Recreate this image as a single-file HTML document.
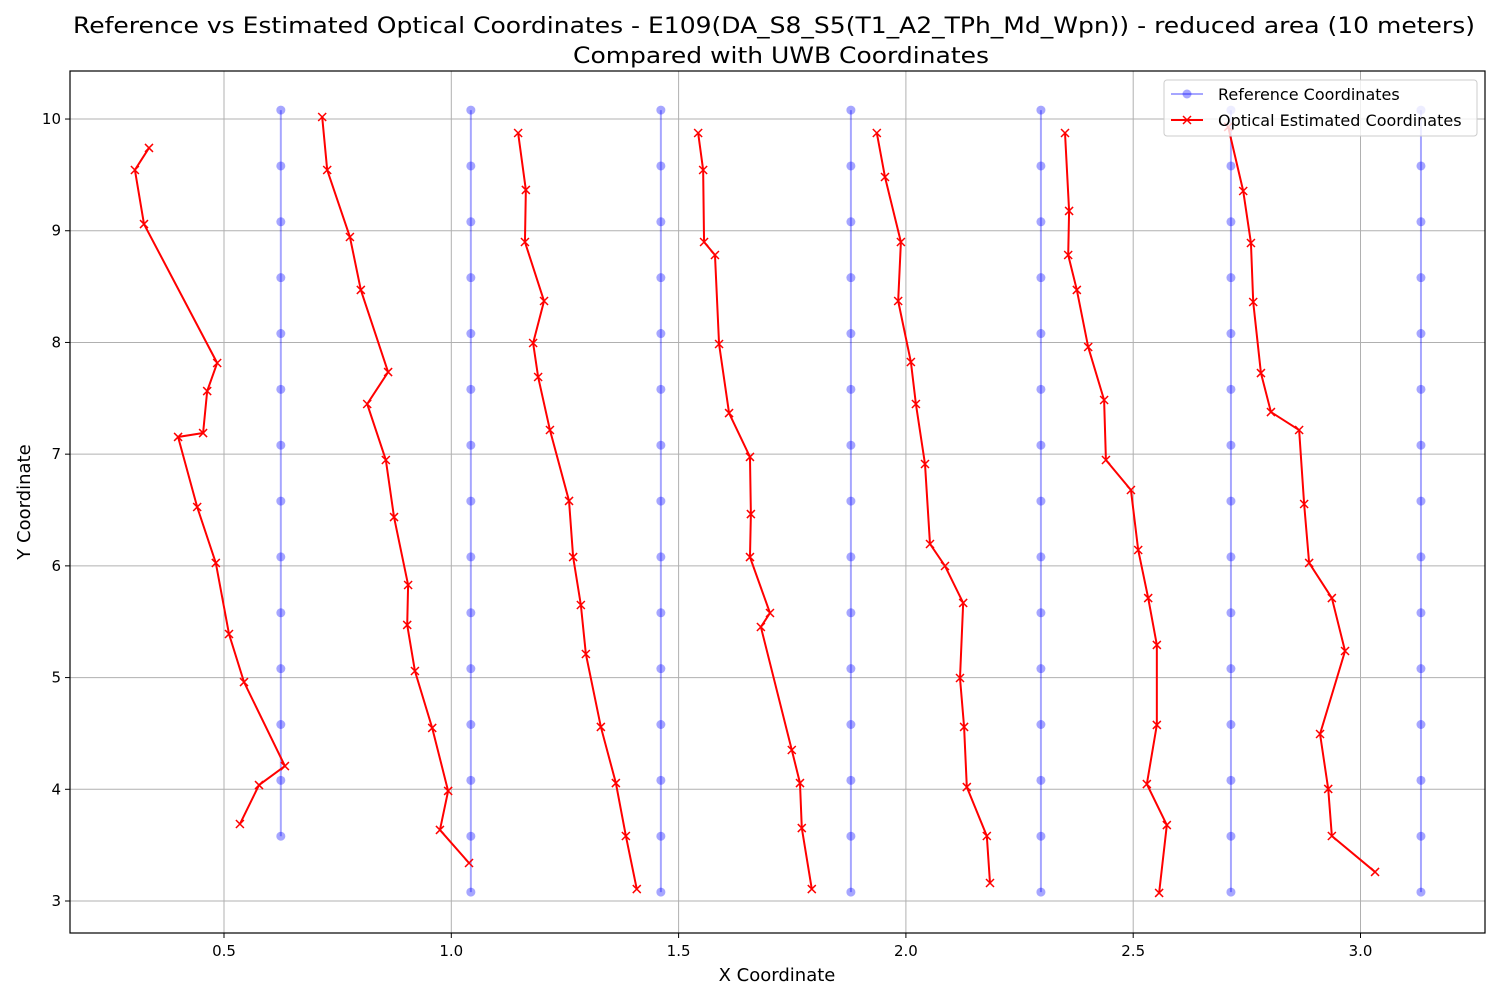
<!DOCTYPE html>
<html><head><meta charset="utf-8"><style>
html,body{margin:0;padding:0;background:#fff;}
svg{display:block;font-family:"DejaVu Sans","Liberation Sans",sans-serif;}
</style></head><body>
<svg id="chart" width="1500" height="1000" xmlns="http://www.w3.org/2000/svg">
<text x="73" y="33" font-size="22" textLength="1402" lengthAdjust="spacingAndGlyphs">Reference vs Estimated Optical Coordinates - E109(DA_S8_S5(T1_A2_TPh_Md_Wpn)) - reduced area (10 meters)</text>
<text x="573" y="63" font-size="22" textLength="416" lengthAdjust="spacingAndGlyphs">Compared with UWB Coordinates</text>
<g id="grid"></g>
<g id="plot"></g>
<rect x="70" y="71" width="1415" height="862" fill="none" stroke="#000" stroke-width="1.2"/>
<g id="ticks"></g>
<text x="777" y="981" text-anchor="middle" font-size="18">X Coordinate</text>
<text transform="translate(30,502) rotate(-90)" text-anchor="middle" font-size="18">Y Coordinate</text>
<g>
<rect x="1164" y="80" width="313" height="56" rx="3" fill="#fff" fill-opacity="0.8" stroke="#ccc"/>
<line x1="1171" y1="94" x2="1203" y2="94" stroke="#0000ff" stroke-opacity="0.35" stroke-width="2"/>
<circle cx="1187" cy="94" r="4.5" fill="#0000ff" fill-opacity="0.35"/>
<text x="1218" y="100" font-size="16">Reference Coordinates</text>
<line x1="1171" y1="120" x2="1203" y2="120" stroke="#ff0000" stroke-width="2"/>
<path d="M1183,116 L1191,124 M1183,124 L1191,116" stroke="#ff0000" stroke-width="1.5"/>
<text x="1218" y="126" font-size="16">Optical Estimated Coordinates</text>
</g>
</svg>
<script>
const xTicks=[0.5,1.0,1.5,2.0,2.5,3.0];
const yTicks=[3,4,5,6,7,8,9,10];
const refX=[0.625,1.043,1.461,1.879,2.297,2.715,3.133];
const refYTop=10.08;
const refYBottom=[3.58,3.08,3.08,3.08,3.08,3.08,3.08];
const opt1X=[0.335,0.304,0.324,0.485,0.463,0.454,0.399,0.441,0.482,0.511,0.544,0.634,0.577,0.535];
const opt1Y=[9.741,9.544,9.060,7.816,7.565,7.189,7.154,6.527,6.026,5.390,4.960,4.208,4.038,3.689];
const opt2X=[0.716,0.727,0.777,0.801,0.861,0.815,0.856,0.874,0.905,0.903,0.920,0.958,0.993,0.975,1.039];
const opt2Y=[10.018,9.544,8.944,8.470,7.735,7.449,6.948,6.437,5.829,5.471,5.059,4.549,3.985,3.636,3.340];
const opt3X=[1.147,1.164,1.162,1.204,1.180,1.191,1.217,1.259,1.268,1.285,1.296,1.329,1.362,1.384,1.408];
const opt3Y=[9.875,9.365,8.899,8.371,7.995,7.691,7.216,6.581,6.079,5.650,5.211,4.558,4.056,3.582,3.107];
const opt4X=[1.543,1.554,1.556,1.580,1.589,1.611,1.657,1.659,1.657,1.701,1.681,1.749,1.767,1.771,1.793];
const opt4Y=[9.875,9.544,8.899,8.783,7.986,7.368,6.975,6.464,6.079,5.578,5.453,4.352,4.056,3.653,3.107];
const opt5X=[1.936,1.954,1.989,1.983,2.011,2.022,2.042,2.053,2.086,2.126,2.119,2.128,2.134,2.178,2.185];
const opt5Y=[9.875,9.481,8.899,8.371,7.825,7.449,6.912,6.196,5.999,5.668,4.996,4.558,4.020,3.582,3.161];
const opt6X=[2.350,2.359,2.357,2.376,2.401,2.436,2.440,2.495,2.511,2.533,2.552,2.552,2.530,2.574,2.557];
const opt6Y=[9.875,9.177,8.783,8.470,7.959,7.485,6.948,6.679,6.142,5.712,5.292,4.576,4.047,3.680,3.072];
const opt7X=[2.709,2.742,2.759,2.764,2.781,2.803,2.865,2.876,2.887,2.937,2.966,2.911,2.929,2.937,3.032];
const opt7Y=[9.929,9.356,8.890,8.362,7.726,7.377,7.216,6.554,6.026,5.712,5.238,4.495,4.003,3.582,3.260];
const optX=[opt1X,opt2X,opt3X,opt4X,opt5X,opt6X,opt7X];
const optY=[opt1Y,opt2Y,opt3Y,opt4Y,opt5Y,opt6Y,opt7Y];

const NS="http://www.w3.org/2000/svg";
function sx(x){return 224+(x-0.5)*454.6;}
function sy(y){return 901-(y-3)*111.71;}
function mk(tag,attrs,parent){const e=document.createElementNS(NS,tag);for(const k in attrs)e.setAttribute(k,attrs[k]);parent.appendChild(e);return e;}
const grid=document.getElementById('grid'),plot=document.getElementById('plot'),ticks=document.getElementById('ticks');
xTicks.forEach(t=>{
  const g=mk('line',{x1:sx(t),x2:sx(t),y1:71,y2:933,stroke:'#b0b0b0','stroke-width':1},grid);
  
  
  mk('line',{x1:sx(t),x2:sx(t),y1:933,y2:938,stroke:'#000'},ticks);
  const l=mk('text',{x:sx(t),y:956,'text-anchor':'middle','font-size':15},ticks);
  l.textContent=t.toFixed(1);
  
  
});
yTicks.forEach(t=>{
  const g=mk('line',{x1:70,x2:1485,y1:sy(t),y2:sy(t),stroke:'#b0b0b0','stroke-width':1},grid);
  
  
  mk('line',{x1:65,x2:70,y1:sy(t),y2:sy(t),stroke:'#000'},ticks);
  const l=mk('text',{x:61,y:sy(t)+5,'text-anchor':'end','font-size':15},ticks);
  l.textContent=String(t);
  
  
});
refX.forEach((x,i)=>{
  const ys=[];for(let y=refYTop;y>=refYBottom[i]-0.01;y-=0.5)ys.push(y);
  const pl=mk('polyline',{points:ys.map(y=>sx(x)+','+sy(y)).join(' '),fill:'none',stroke:'#0000ff','stroke-opacity':0.35,'stroke-width':2},plot);
  
  
  ys.forEach(y=>{
    const c=mk('circle',{cx:sx(x),cy:sy(y),r:4.5,fill:'#0000ff','fill-opacity':0.35},plot);
    
    
  });
});
optX.forEach((xs,i)=>{
  const ys=optY[i];
  const pl=mk('polyline',{points:xs.map((x,j)=>sx(x)+','+sy(ys[j])).join(' '),fill:'none',stroke:'#ff0000','stroke-width':2},plot);
  
  
  xs.forEach((x,j)=>{
    const px=sx(x),py=sy(ys[j]);
    const m=mk('path',{d:`M${px-4},${py-4} L${px+4},${py+4} M${px-4},${py+4} L${px+4},${py-4}`,stroke:'#ff0000','stroke-width':1.5},plot);
    
    
  });
});
</script>
</body></html>
